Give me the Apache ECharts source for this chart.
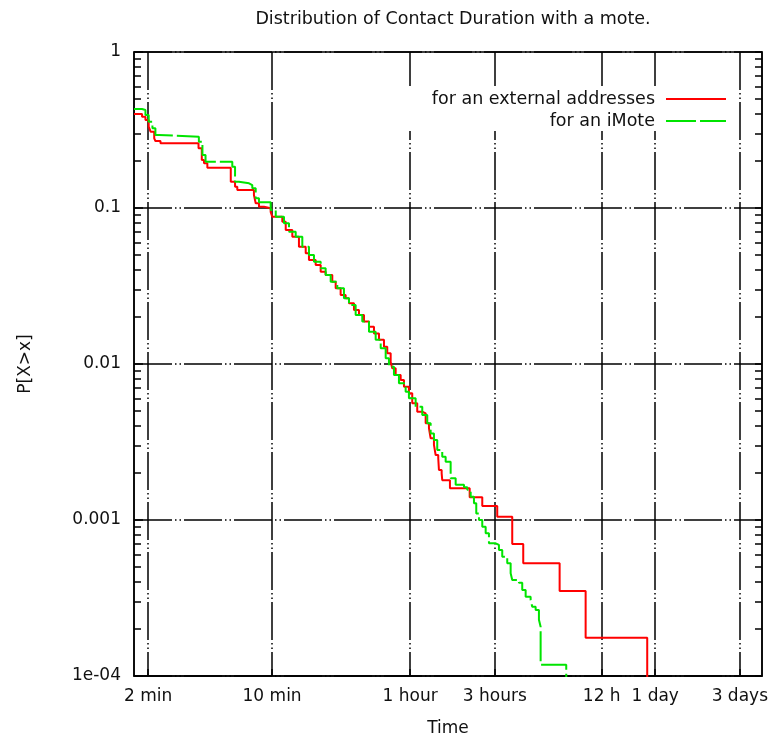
<!DOCTYPE html>
<html><head><meta charset="utf-8">
<script src="https://cdn.jsdelivr.net/npm/echarts@6/dist/echarts.min.js"></script>
<style>html,body{margin:0;padding:0;background:#fff}#c{width:774px;height:740px}</style>
</head><body><div id="c"></div>
<script>
const xTickValues = [120, 600, 3600, 10800, 43200, 86400, 259200];
const xTickLabels = ['2 min', '10 min', '1 hour', '3 hours', '12 h', '1 day', '3 days'];
const yTickValues = [0.0001, 0.001, 0.01, 0.1, 1];
const yTickLabels = ['1e-04', '0.001', '0.01', '0.1', '1'];

const externalTime = [100, 111, 116, 121, 124, 130, 132, 141, 231, 241, 248, 259, 351, 371, 382, 474, 485, 506, 540, 589, 601, 685, 716, 780, 850, 928, 968, 1056, 1127, 1202, 1310, 1369, 1460, 1558, 1627, 1736, 1852, 1976, 2109, 2250, 2401, 2562, 2673, 2794, 2852, 2981, 3181, 3320, 3541, 3696, 3944, 4210, 4400, 4592, 4694, 4899, 5008, 5180, 5227, 5414, 5456, 6029, 7788, 9170, 11136, 13528, 15604, 25019, 35058, 77956];
const externalProb = [0.4005, 0.3849, 0.3664, 0.3320, 0.3083, 0.2797, 0.2688, 0.2598, 0.2413, 0.2031, 0.1934, 0.1813, 0.1475, 0.1369, 0.1304, 0.1212, 0.1072, 0.1019, 0.0996, 0.0943, 0.0879, 0.0817, 0.0723, 0.0655, 0.0565, 0.0512, 0.0464, 0.0431, 0.0390, 0.0372, 0.0337, 0.0306, 0.0277, 0.0264, 0.0245, 0.0222, 0.0206, 0.0187, 0.0173, 0.0157, 0.0143, 0.0129, 0.0117, 0.0103, 0.00939, 0.00850, 0.00790, 0.00715, 0.00649, 0.00560, 0.00494, 0.00483, 0.00417, 0.00387, 0.00334, 0.00303, 0.00261, 0.00249, 0.00209, 0.00199, 0.00180, 0.00160, 0.00140, 0.00123, 0.00105, 0.000702, 0.000528, 0.000351, 0.000176, 0.00005];

const imoteTime = [100, 111, 116, 121, 127, 132, 138, 232, 243, 253, 358, 371, 390, 445, 464, 485, 506, 589, 629, 700, 747, 815, 888, 968, 1033, 1127, 1202, 1283, 1398, 1524, 1627, 1774, 1933, 2109, 2300, 2455, 2619, 2733, 2916, 3111, 3394, 3541, 3863, 4210, 4492, 4694, 4899, 5113, 5456, 5702, 6084, 6493, 7233, 7549, 7889, 8234, 8483, 8786, 9170, 9584, 10000, 10908, 11385, 11883, 12679, 13251, 13528, 14757, 15403, 16098, 17176, 17536, 18328, 19127, 19553, 19553, 27262];
const imoteProb = [0.4311, 0.4248, 0.3947, 0.3573, 0.3243, 0.2937, 0.2864, 0.2660, 0.2186, 0.1981, 0.1839, 0.1475, 0.1440, 0.1404, 0.1337, 0.1154, 0.1088, 0.0971, 0.0879, 0.0798, 0.0705, 0.0655, 0.0565, 0.0500, 0.0453, 0.0411, 0.0372, 0.0337, 0.0306, 0.0264, 0.0239, 0.0206, 0.0187, 0.0161, 0.0143, 0.0126, 0.0109, 0.00961, 0.00850, 0.00752, 0.00664, 0.00603, 0.00532, 0.00471, 0.00417, 0.00359, 0.00326, 0.00281, 0.00254, 0.00236, 0.00185, 0.00168, 0.00162, 0.00156, 0.00141, 0.00128, 0.00110, 0.00100, 0.000906, 0.000822, 0.000709, 0.000692, 0.000642, 0.000582, 0.000528, 0.000455, 0.000412, 0.000396, 0.000356, 0.000322, 0.000307, 0.000278, 0.000265, 0.000229, 0.000207, 0.000118, 0.00005];

const seriesNames = ['for an external addresses', 'for an iMote'];

// minor tick positions (2..9 within each decade)
const yMinorTicks = [];
[0.0001, 0.001, 0.01, 0.1].forEach(d => { for (let k = 2; k <= 9; k++) yMinorTicks.push(+(d * k).toPrecision(3)); });

function pick(values, labels, v) {
  for (let i = 0; i < values.length; i++) {
    if (Math.abs(values[i] - v) / values[i] < 1e-6) return labels[i];
  }
  return '';
}
const FONT = '"DejaVu Sans", sans-serif';
const gridDash = [38, 3, 1.5, 3, 1.5, 3];

function legendCfg(name, top) {
  return {
    data: [name], right: 47, top: top, orient: 'vertical', align: 'right',
    itemWidth: 60, itemHeight: 14, padding: 0,
    itemStyle: { opacity: 0 },
    textStyle: { fontFamily: FONT, fontSize: 17.5, color: '#111', padding: [0, 6, 0, 0] }
  };
}

const chart = echarts.init(document.getElementById('c'), null, { renderer: 'canvas' });
chart.setOption({
  animation: false,
  backgroundColor: '#fff',
  title: {
    text: 'Distribution of Contact Duration with a mote.',
    left: 448, top: 5, textAlign: 'center',
    textStyle: { fontFamily: FONT, fontSize: 17.5, fontWeight: 'normal', color: '#111' }
  },
  grid: { left: 134, right: 12, top: 52, bottom: 64, show: true, borderColor: '#000', borderWidth: 1.5, containLabel: false, outerBoundsMode: 'none' },
  legend: [legendCfg(seriesNames[0], 90), legendCfg(seriesNames[1], 112)],
  graphic: [{ type: 'rect', left: 402, top: 86, z: 3, shape: { width: 330, height: 45 }, style: { fill: '#fff' } }],
  xAxis: {
    type: 'log', logBase: 10, min: 100, max: 345600,
    name: 'Time', nameLocation: 'middle', nameGap: 44,
    nameTextStyle: { fontFamily: FONT, fontSize: 17, color: '#111' },
    axisLine: { show: true, lineStyle: { color: '#000', width: 1.5 } },
    axisTick: { show: true, inside: true, length: 7, customValues: xTickValues, lineStyle: { color: '#000', width: 1.5 } },
    axisLabel: { show: true, customValues: xTickValues, margin: 12, fontFamily: FONT, fontSize: 17, color: '#111',
      formatter: v => pick(xTickValues, xTickLabels, v) },
    splitLine: { show: true, lineStyle: { color: '#000', width: 1.5, type: gridDash } },
    minorTick: { show: false }, minorSplitLine: { show: false }
  },
  yAxis: [
    {
      type: 'log', logBase: 10, min: 0.0001, max: 1, position: 'left',
      name: 'P[X>x]', nameLocation: 'middle', nameGap: 100,
      nameTextStyle: { fontFamily: FONT, fontSize: 17, color: '#111' },
      axisLine: { show: true, lineStyle: { color: '#000', width: 1.5 } },
      axisTick: { show: true, inside: true, length: 9, customValues: yTickValues, lineStyle: { color: '#000', width: 1.5 } },
      axisLabel: { show: true, customValues: yTickValues, margin: 13, fontFamily: FONT, fontSize: 17, color: '#111',
        formatter: v => pick(yTickValues, yTickLabels, v) },
      splitLine: { show: true, lineStyle: { color: '#000', width: 1.5, type: gridDash } }
    },
    {
      type: 'log', logBase: 10, min: 0.0001, max: 1, position: 'left',
      axisLine: { show: false },
      axisTick: { show: true, inside: true, length: 7, customValues: yMinorTicks, lineStyle: { color: '#000', width: 1.5 } },
      axisLabel: { show: false }, splitLine: { show: false }
    },
    {
      type: 'log', logBase: 10, min: 0.0001, max: 1, position: 'right',
      axisLine: { show: true, lineStyle: { color: '#000', width: 1.5 } },
      axisTick: { show: true, inside: true, length: 7, customValues: yMinorTicks.concat(yTickValues), lineStyle: { color: '#000', width: 1.5 } },
      axisLabel: { show: false }, splitLine: { show: false }
    }
  ],
  series: [
    {
      name: seriesNames[0], type: 'line', step: 'end', symbol: 'none', showSymbol: false,
      xAxisIndex: 0, yAxisIndex: 0, clip: true, z: 3,
      data: externalTime.map((t, i) => [t, externalProb[i]]),
      lineStyle: { color: '#ff0000', width: 2 }, itemStyle: { color: '#ff0000' }
    },
    {
      name: seriesNames[1], type: 'line', step: 'end', symbol: 'none', showSymbol: false,
      xAxisIndex: 0, yAxisIndex: 0, clip: true, z: 4,
      data: imoteTime.map((t, i) => [t, imoteProb[i]]),
      lineStyle: { color: '#00e400', width: 2, type: [30, 4] }, itemStyle: { color: '#00e400' }
    }
  ]
});
</script>
</body></html>
